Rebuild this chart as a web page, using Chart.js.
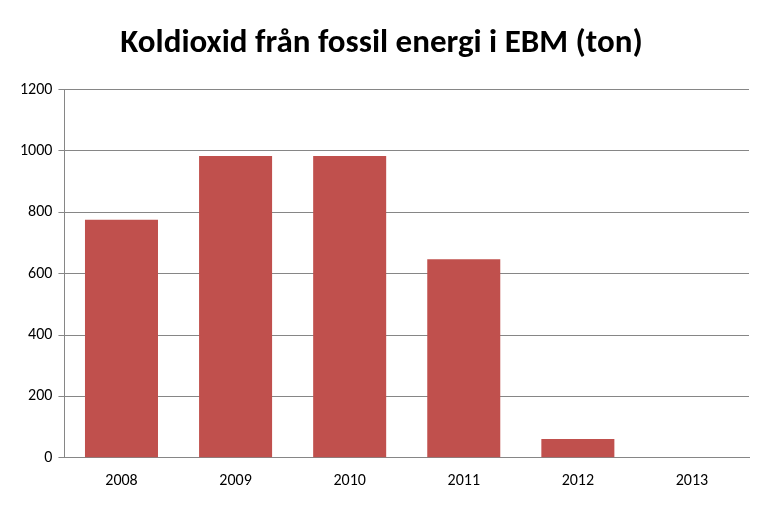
<!DOCTYPE html>
<html>
<head>
<meta charset="utf-8">
<script src="https://cdn.jsdelivr.net/npm/chart.js@4"></script>
<style>
  body { margin: 0; background: #fff; }
  #wrap { width: 770px; height: 511px; }
</style>
</head>
<body>
<div id="wrap"><canvas id="chart"></canvas></div>
<script>
const years = ['2008', '2009', '2010', '2011', '2012', '2013'];
const co2Tons = [776, 984, 984, 647, 61, 0];
const yTicks = [0, 200, 400, 600, 800, 1000, 1200];

const font = "Calibri, Carlito, 'Open Sans', sans-serif";

new Chart(document.getElementById('chart'), {
    type: 'bar',
    data: {
        labels: years,
        datasets: [{
            data: co2Tons,
            backgroundColor: '#c0504d',
            categoryPercentage: 1,
            barPercentage: 0.64,
        }]
    },
    options: {
        responsive: true,
        maintainAspectRatio: false,
        animation: false,
        layout: { padding: { left: 14, right: 21, top: 0, bottom: 14 } },
        plugins: {
            legend: { display: false },
            tooltip: { enabled: false },
            title: {
                display: true,
                text: 'Koldioxid från fossil energi i EBM (ton)',
                color: '#000',
                font: { family: font, size: 33, weight: 'bold' },
                padding: { top: 24, bottom: 26 }
            }
        },
        scales: {
            x: {
                grid: { display: false },
                border: { color: '#868686' },
                ticks: { color: '#000', font: { family: font, size: 16 }, padding: 6 }
            },
            y: {
                min: 0,
                max: 1200,
                afterBuildTicks: axis => { axis.ticks = yTicks.map(v => ({ value: v })); },
                grid: { color: '#868686', drawTicks: true, tickLength: 6 },
                border: { color: '#868686' },
                ticks: { color: '#000', font: { family: font, size: 16 }, padding: 6, callback: v => String(v) }
            }
        }
    }
});
</script>
</body>
</html>
